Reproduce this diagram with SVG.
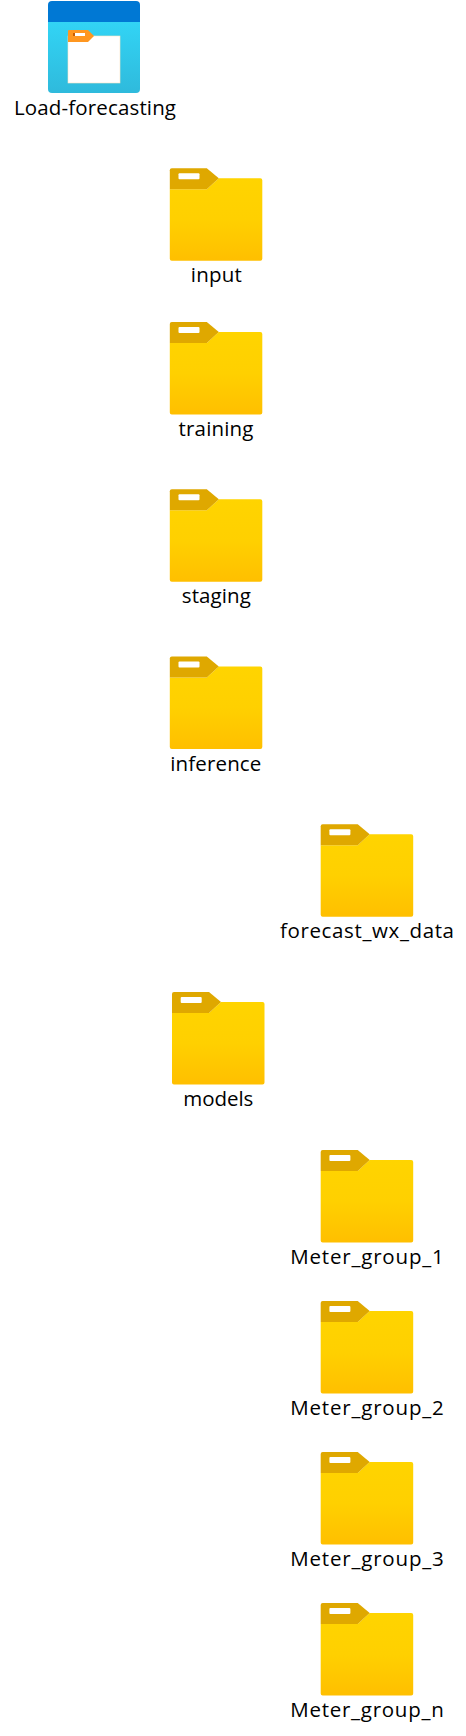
<svg xmlns="http://www.w3.org/2000/svg" width="466" height="1736" viewBox="0 0 466 1736">
<style>
text{font-family:"Open Sans","Noto Sans","Liberation Sans",sans-serif;font-size:20.5px;fill:#000;text-anchor:middle}
.body{fill:url(#fb)}.tab{fill:#dfa800}.slot{fill:#fff}
</style>
<defs>
<linearGradient id="fb" x1="0" y1="0" x2="0" y2="1"><stop offset="0" stop-color="#ffd400"/><stop offset="0.5" stop-color="#ffd000"/><stop offset="1" stop-color="#ffbf00"/></linearGradient>
<linearGradient id="wb" x1="0" y1="0" x2="0" y2="1"><stop offset="0" stop-color="#32d4f5"/><stop offset="1" stop-color="#2fbadc"/></linearGradient>
<g id="folder">
<path class="body" d="M0 21L37 21L49 10L90.5 10Q92.5 10 92.5 12L92.5 90.5Q92.5 92.5 90.5 92.5L2 92.5Q0 92.5 0 90.5Z"/>
<path class="tab" d="M2 0L37 0L49 10L37 21L0 21L0 2Q0 0 2 0Z"/>
<rect class="slot" x="8.7" y="5" width="21" height="6" rx="1"/>
</g>
</defs>
<g id="connectors"/>
<g id="load-forecasting">
<path d="M48 5Q48 1 52 1L136 1Q140 1 140 5L140 22L48 22Z" fill="#0078d4"/>
<path d="M48 22L140 22L140 89Q140 93 136 93L52 93Q48 93 48 89Z" fill="url(#wb)"/>
<rect x="68" y="36" width="52" height="47" fill="#fff" stroke="#fbe3c4" stroke-width="0.6"/>
<path d="M69 30L88 30L94 36L88 42L68 42L68 31Q68 30 69 30Z" fill="#ff9720"/>
<rect x="73" y="33" width="2" height="3" fill="#c85c00"/>
<rect x="75" y="33" width="10" height="3" fill="#fff"/>
<text x="95" y="115" textLength="162">Load-forecasting</text>
</g>
<g id="input"><use href="#folder" x="169.8" y="168.3"/><text x="216.3" y="282" textLength="51">input</text></g>
<g id="training"><use href="#folder" x="169.8" y="322"/><text x="216" y="436" textLength="75">training</text></g>
<g id="staging"><use href="#folder" x="169.8" y="489.3"/><text x="216.3" y="603" textLength="69">staging</text></g>
<g id="inference"><use href="#folder" x="169.8" y="656.5"/><text x="215.8" y="770.5" textLength="91">inference</text></g>
<g id="forecast_wx_data"><use href="#folder" x="320.7" y="824.2"/><text x="367" y="937.5" textLength="174">forecast_wx_data</text></g>
<g id="models"><use href="#folder" x="172" y="992"/><text x="218.3" y="1106" textLength="70">models</text></g>
<g id="meter_group_1"><use href="#folder" x="320.7" y="1150"/><text x="367" y="1264" textLength="153.5">Meter_group_1</text></g>
<g id="meter_group_2"><use href="#folder" x="320.7" y="1301"/><text x="367" y="1415" textLength="153.5">Meter_group_2</text></g>
<g id="meter_group_3"><use href="#folder" x="320.7" y="1452"/><text x="367" y="1566" textLength="153.5">Meter_group_3</text></g>
<g id="meter_group_n"><use href="#folder" x="320.7" y="1603"/><text x="367" y="1717" textLength="153.5">Meter_group_n</text></g>
</svg>
